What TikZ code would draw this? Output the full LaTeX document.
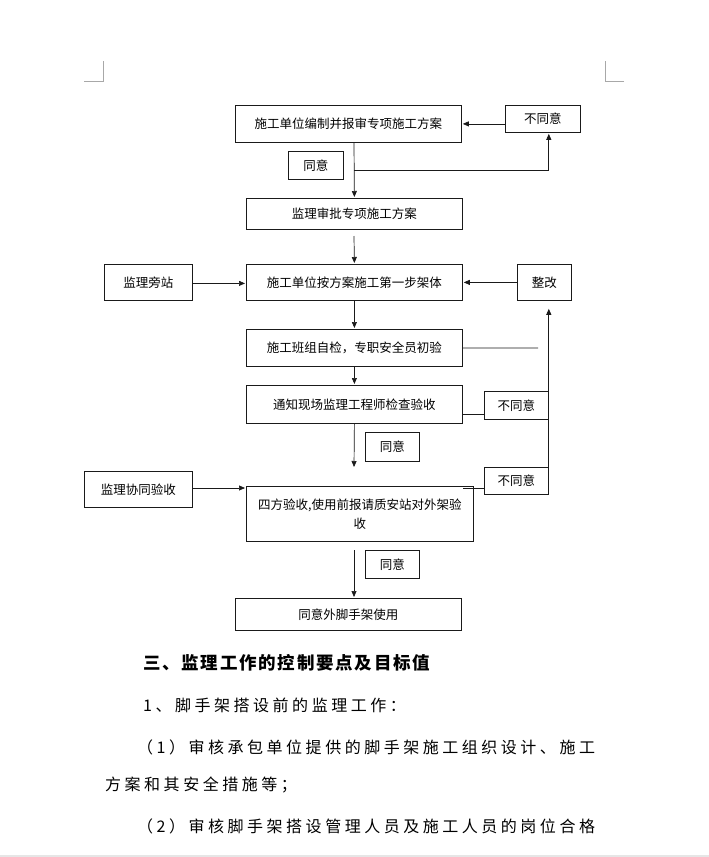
\documentclass[tikz,border=0pt]{standalone}
\usepackage{fontspec}
\setmainfont{Noto Sans CJK SC}
\newfontfamily\bodyfont[LetterSpace=22]{Noto Sans CJK SC}
\newfontfamily\headfont[LetterSpace=10]{Noto Sans CJK SC}
\usetikzlibrary{arrows.meta,positioning}
\definecolor{ink}{HTML}{1A1A1A}
\definecolor{cornergray}{HTML}{A8A8A8}
\definecolor{sepgray}{HTML}{E6E6E6}

\begin{document}
\begin{tikzpicture}[x=1pt, y=-1pt,
      box/.style={draw=ink, line width=0.8pt, inner sep=0pt, anchor=north west, align=center, font=\fontsize{12.5}{19}\selectfont},
      arr/.style={-{Triangle[length=6pt,width=5pt]}, line width=0.7pt, color=ink, shorten >=1pt},
      wire/.style={line width=0.7pt, color=ink},
      para/.style={anchor=west, inner sep=0pt, font=\fontsize{16}{18}\bodyfont}]
    \fill[white] (0,0) rectangle (709,857);
    \useasboundingbox (0,0) rectangle (709,857);
    % page corner marks
    \draw[cornergray, line width=0.6pt] (84,81) -- (103,81) -- (103,61);
    \draw[cornergray, line width=0.6pt] (624,81) -- (605,81) -- (605,61);
    % flow boxes
    \node[box, minimum width=226pt, minimum height=37pt] (plan) at (235,105) {施工单位编制并报审专项施工方案};
    \node[box, minimum width=75pt, minimum height=27pt] (nok1) at (505,105) {不同意};
    \node[box, minimum width=55pt, minimum height=28pt] (ok1) at (288,151) {同意};
    \node[box, minimum width=216pt, minimum height=31pt] (approve) at (246,198) {监理审批专项施工方案};
    \node[box, minimum width=216pt, minimum height=36pt] (build) at (246,264) {施工单位按方案施工第一步架体};
    \node[box, minimum width=88pt, minimum height=36pt] (side) at (104,264) {监理旁站};
    \node[box, minimum width=54pt, minimum height=36pt] (fix) at (517,264) {整改};
    \node[box, minimum width=216pt, minimum height=37pt] (selfchk) at (246,329) {施工班组自检，专职安全员初验};
    \node[box, minimum width=216pt, minimum height=38pt] (notify) at (246,385) {通知现场监理工程师检查验收};
    \node[box, minimum width=64pt, minimum height=28pt] (nok2) at (484,391) {不同意};
    \node[box, minimum width=54pt, minimum height=29pt] (ok2) at (365,432) {同意};
    \node[box, minimum width=108pt, minimum height=36pt] (joint) at (84,471) {监理协同验收};
    \node[box, minimum width=64pt, minimum height=27pt] (nok3) at (484,467) {不同意};
    \node[box, minimum width=227pt, minimum height=55pt] (accept) at (246,486) {四方验收,使用前报请质安站对外架验\\收};
    \node[box, minimum width=54pt, minimum height=28pt] (ok3) at (365,550) {同意};
    \node[box, minimum width=226pt, minimum height=32pt] (useok) at (235,598) {同意外脚手架使用};
    % free ends
    \coordinate (fork) at (354,170);
    \coordinate (b2) at (354,236);
    \coordinate (selfend) at (538,348);
    \coordinate (n2) at (354,468);
    \coordinate (a2) at (354,550);
    % connectors
    \draw[arr] ([yshift=-5pt]nok1.west) -- ([yshift=-5pt]nok1.west -| plan.east);
    \draw[arr] (fork |- plan.south) -- (approve.north);
    \draw[arr] (fork) -- (fork -| nok3.north east) -- (nok3.north east |- nok1.south);
    \draw[arr] (b2) -- (build.north);
    \draw[arr] ([yshift=-1pt]side.east) -- ([yshift=-1pt]side.east -| build.west);
    \draw[arr] (fix.west) -- (fix.west -| build.east);
    \draw[arr] (build.south) -- (selfchk.north);
    \draw[wire] (selfchk.east) -- (selfend);
    \draw[arr] (selfchk.south) -- (notify.north);
    \draw[wire] ([yshift=-10pt]notify.east) -- ([yshift=-10pt]notify.east -| nok2.west);
    \draw[arr] (notify.south) -- (n2);
    \draw[arr] (joint.east |- 0,488) -- (accept.west |- 0,488);
    \draw[wire] (463,488) -- (nok3.west |- 0,488);
    \draw[arr, shorten >=8pt] (nok3.north east) -- (nok3.north east |- fix.south);
    \draw[arr] (a2) -- (a2 |- useok.north);
    % text below the chart
    \node[para, font=\fontsize{17.5}{20}\headfont\bfseries] (head) at (143,663) {三、监理工作的控制要点及目标值};
    \node[para] (line1) at (143,705) {1、脚手架搭设前的监理工作：};
    \node[para] (line2) at (137,747) {（1）审核承包单位提供的脚手架施工组织设计、施工};
    \node[para] (line3) at (105,785) {方案和其安全措施等；};
    \node[para] (line4) at (137,826) {（2）审核脚手架搭设管理人员及施工人员的岗位合格};
    \draw[sepgray, line width=2pt] (0,856) -- (709,856);
  \end{tikzpicture}
\end{document}
